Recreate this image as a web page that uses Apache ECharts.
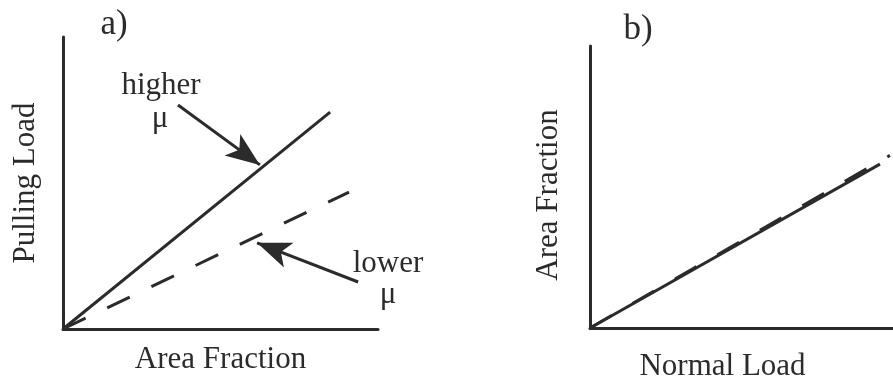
<!DOCTYPE html>
<html>
<head>
<meta charset="utf-8">
<script src="https://cdn.jsdelivr.net/npm/echarts@6/dist/echarts.min.js"></script>
<style>
  html, body { margin: 0; padding: 0; background: #ffffff; }
  #chart { width: 893px; height: 387px; }
</style>
</head>
<body>
<div id="chart"></div>
<script>
// Panel a: pulling load vs area fraction, two friction coefficients
const pullingHigherMu = [[0, 0], [8.48, 7.43]];
const pullingLowerMu = [[0, 0], [9.08, 4.69]];
// Arrows pointing at each line: [tail, head]
const arrowHigher = [[3.65, 7.67], [6.25, 5.62]];
const arrowLower = [[9.37, 1.61], [6.16, 2.95]];

// Panel b: area fraction vs normal load (both cases nearly coincide)
const areaHigherMu = [[0, 0], [9.57, 5.81]];
const areaLowerMu = [[0, 0], [9.90, 6.12]];

const panelTitles = ['a)', 'b)'];
const axisNamesA = ['Area Fraction', 'Pulling Load'];
const axisNamesB = ['Normal Load', 'Area Fraction'];
const annotationHigher = ['higher', 'μ'];
const annotationLower = ['lower', 'μ'];

const INK = '#2b2b2b';
const SERIF = '"Liberation Serif", "DejaVu Serif", serif';

function plainAxis(gridIndex, name, gap, padding) {
  return {
    type: 'value', gridIndex: gridIndex, min: 0, max: 10,
    name: name, nameLocation: 'middle', nameGap: gap,
    nameTextStyle: { color: INK, fontFamily: SERIF, fontSize: 31, padding: padding || 0 },
    axisLine: { show: true, onZero: false, lineStyle: { color: INK, width: 3 } },
    axisTick: { show: false }, axisLabel: { show: false }, splitLine: { show: false }
  };
}

function lineSeries(data, idx, dashed) {
  return {
    type: 'line', xAxisIndex: idx, yAxisIndex: idx, data: data,
    showSymbol: false, silent: true, animation: false,
    lineStyle: dashed
      ? { color: INK, width: 3, type: [25, 24], cap: 'butt' }
      : { color: INK, width: 3 }
  };
}

function arrow(pair) {
  return [{ coord: pair[0] }, { coord: pair[1] }];
}

const chart = echarts.init(document.getElementById('chart'), null, { renderer: 'canvas' });

const textStyle = (size) => ({ fill: INK, font: size + 'px ' + SERIF, textAlign: 'center', textVerticalAlign: 'middle' });

chart.setOption({
  backgroundColor: '#ffffff',
  animation: false,
  grid: [
    { left: 63, top: 37, width: 315, height: 292 },
    { left: 590, top: 46, width: 303, height: 291 }
  ],
  xAxis: [
    plainAxis(0, axisNamesA[0], 15),
    plainAxis(1, axisNamesB[0], 23, [0, 38, 0, 0])
  ],
  yAxis: [
    plainAxis(0, axisNamesA[1], 22, [10, 0, 0, 0]),
    plainAxis(1, axisNamesB[1], 26, [0, 16, 0, 0])
  ],
  series: [
    Object.assign(lineSeries(pullingHigherMu, 0, false), {
      markLine: {
        silent: true, animation: false,
        symbol: ['none', 'arrow'], symbolSize: [20, 34],
        label: { show: false },
        lineStyle: { color: INK, width: 3, type: 'solid' },
        data: [arrow(arrowHigher), arrow(arrowLower)]
      }
    }),
    lineSeries(pullingLowerMu, 0, true),
    lineSeries(areaHigherMu, 1, false),
    lineSeries(areaLowerMu, 1, true)
  ],
  graphic: [
    { type: 'text', x: 114, y: 25, style: Object.assign({ text: panelTitles[0] }, textStyle(35)) },
    { type: 'text', x: 638, y: 30, style: Object.assign({ text: panelTitles[1] }, textStyle(35)) },
    { type: 'text', x: 161, y: 86, style: Object.assign({ text: annotationHigher[0] }, textStyle(31)) },
    { type: 'text', x: 160, y: 119, style: Object.assign({ text: annotationHigher[1] }, textStyle(31)) },
    { type: 'text', x: 388, y: 264, style: Object.assign({ text: annotationLower[0] }, textStyle(31)) },
    { type: 'text', x: 388, y: 295, style: Object.assign({ text: annotationLower[1] }, textStyle(31)) }
  ]
});
</script>
</body>
</html>
